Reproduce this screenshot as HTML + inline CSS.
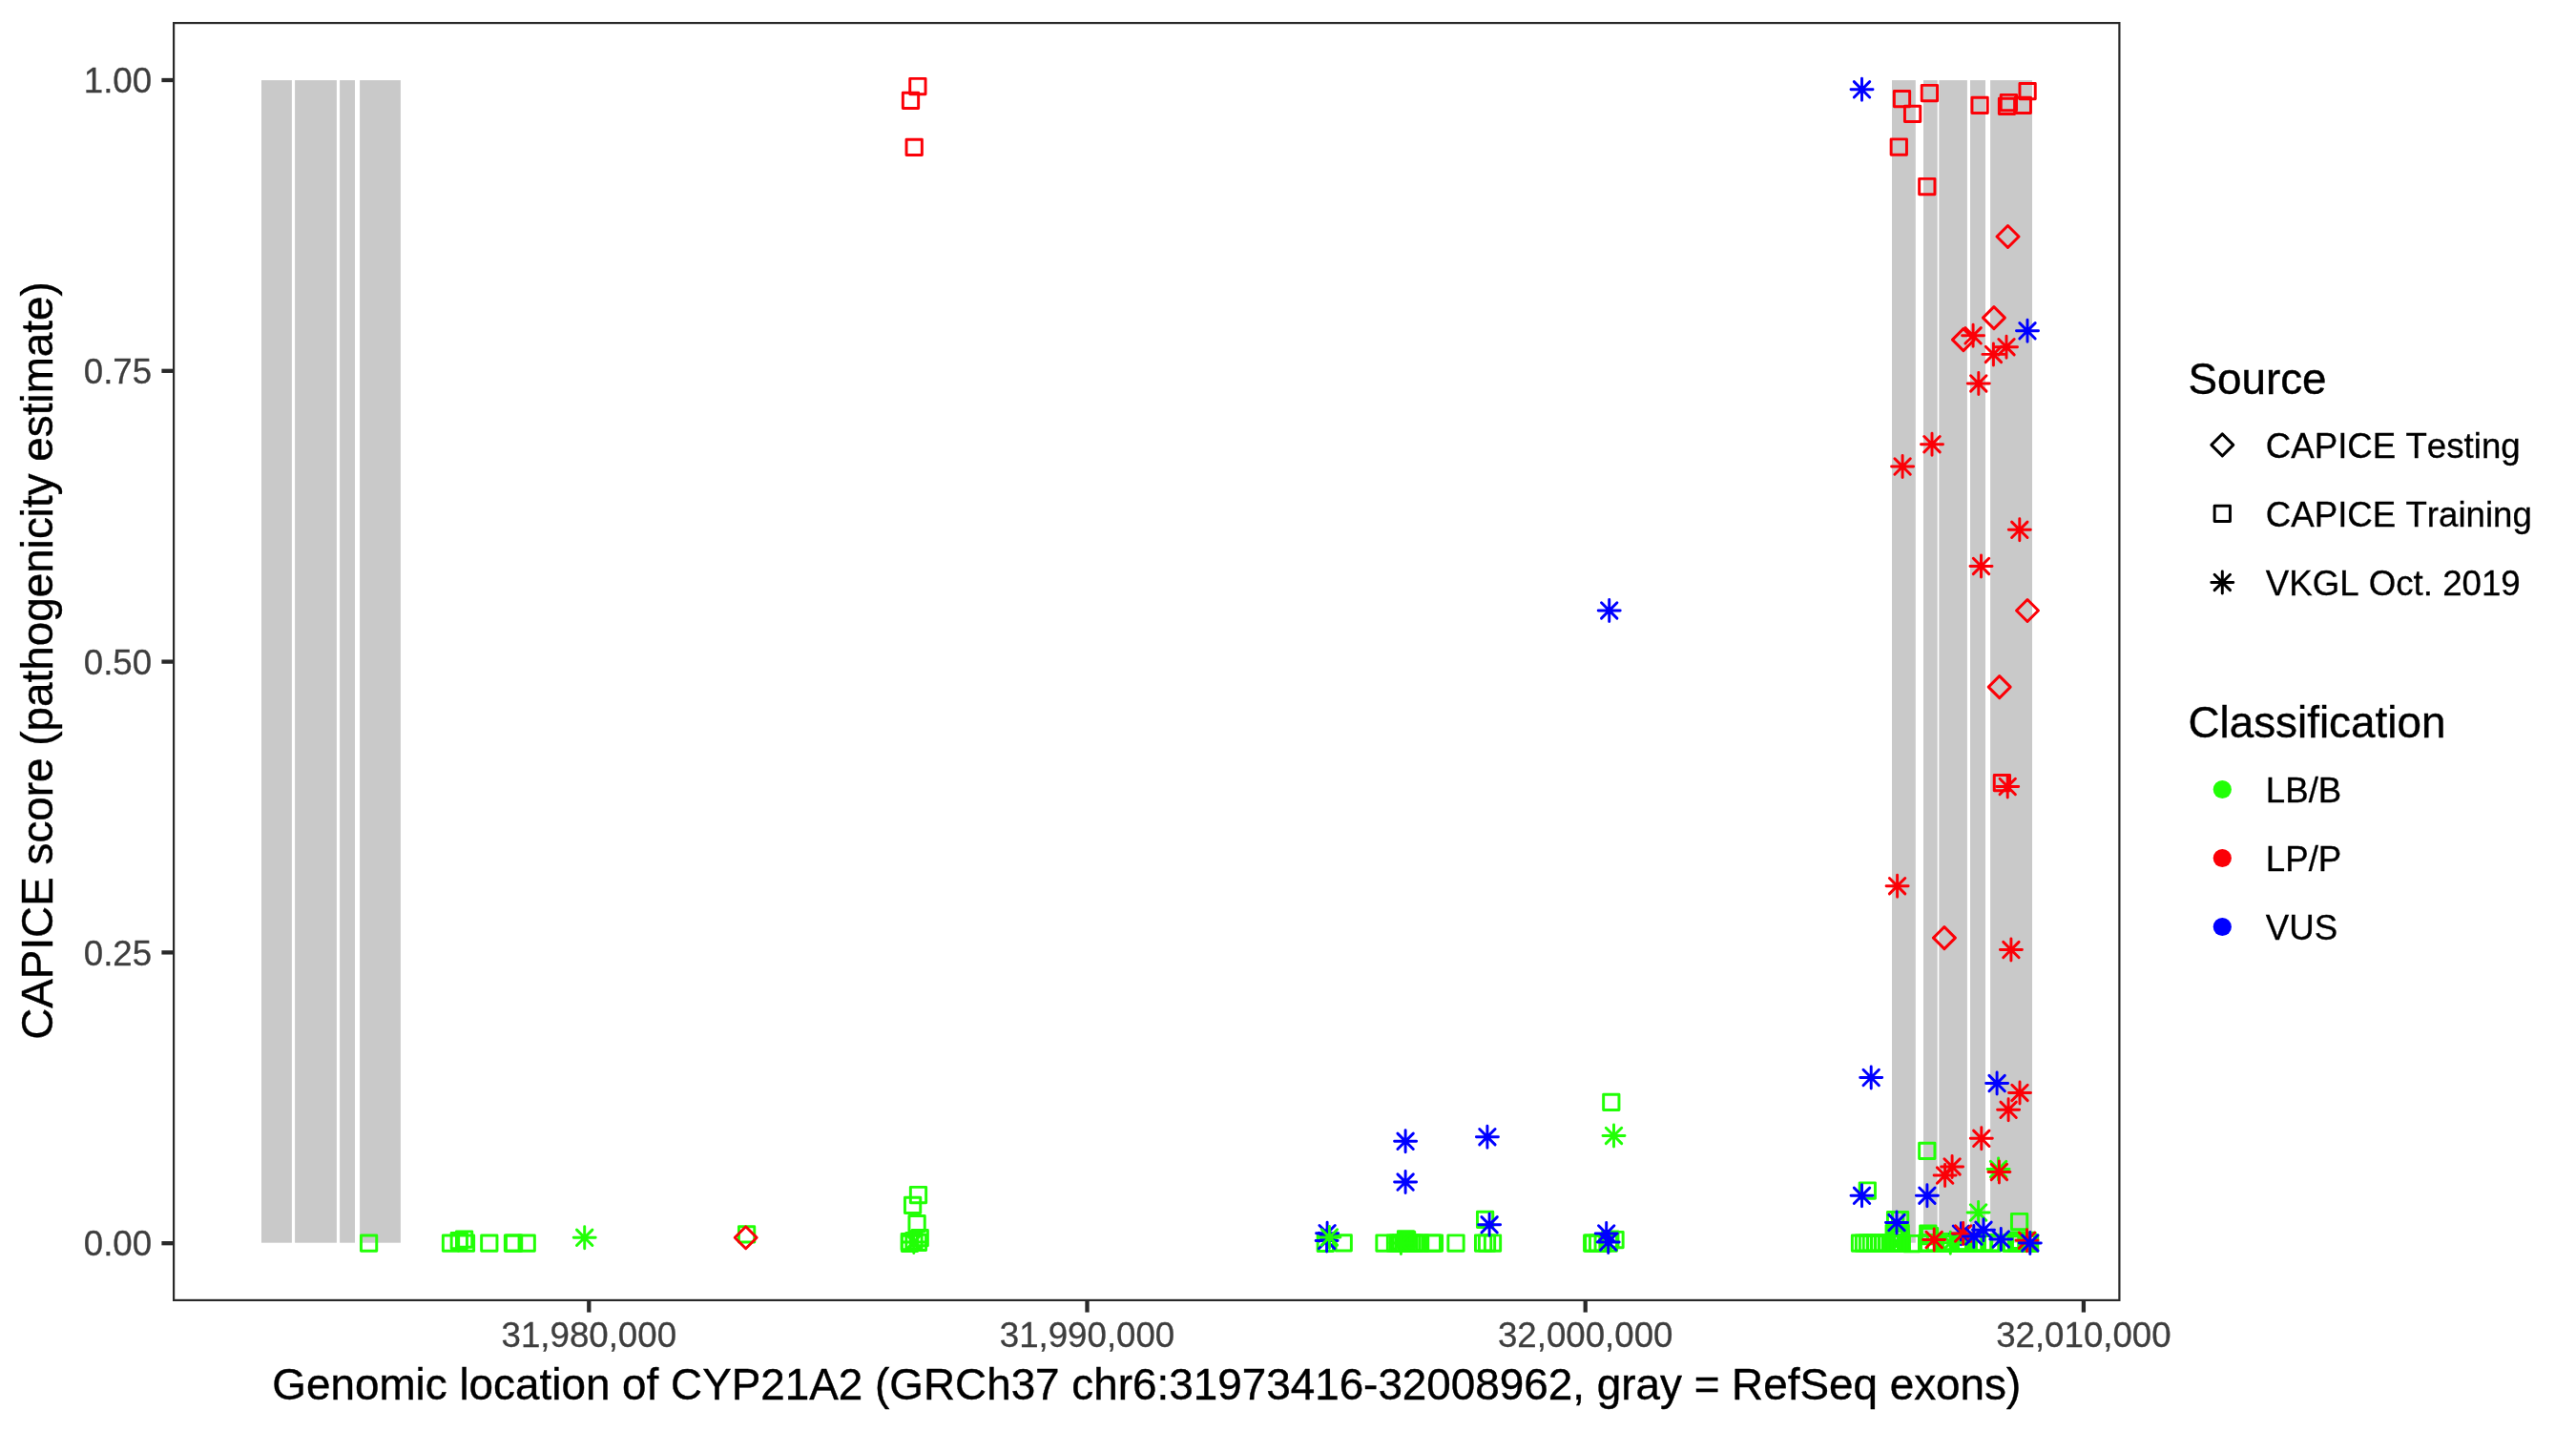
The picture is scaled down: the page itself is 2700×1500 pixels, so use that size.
<!DOCTYPE html>
<html><head><meta charset="utf-8"><title>CAPICE CYP21A2</title>
<style>
html,body{margin:0;padding:0;background:#fff;}
body{width:2700px;height:1500px;overflow:hidden;}
svg{display:block;will-change:transform;}
text{font-family:"Liberation Sans",sans-serif;font-kerning:none;}
.ax{font-size:36.67px;fill:#3e3e3e;stroke:#3e3e3e;stroke-width:0.3px;}
.ti{font-size:45.83px;fill:#000;stroke:#000;stroke-width:0.4px;}
.lg{font-size:36.67px;fill:#000;stroke:#000;stroke-width:0.3px;}
</style></head><body>
<svg width="2700" height="1500" viewBox="0 0 2700 1500">
<defs>
<rect id="sq" x="-8.15" y="-8.15" width="16.3" height="16.3"/>
<path id="di" d="M0 -11.5L11.5 0L0 11.5L-11.5 0Z"/>
<path id="st" d="M-11.5 0H11.5M0 -11.5V11.5M-8.2 -8.2L8.2 8.2M-8.2 8.2L8.2 -8.2"/>
</defs>
<rect width="2700" height="1500" fill="#fff"/>
<g fill="#C9C9C9"><rect x="274.0" y="84.1" width="31.9" height="1218.6"/><rect x="309.1" y="84.1" width="43.8" height="1218.6"/><rect x="356.1" y="84.1" width="15.9" height="1218.6"/><rect x="377.1" y="84.1" width="42.8" height="1218.6"/><rect x="1983.0" y="84.1" width="24.8" height="1218.6"/><rect x="2016.0" y="84.1" width="14.7" height="1218.6"/><rect x="2032.3" y="84.1" width="29.6" height="1218.6"/><rect x="2065.0" y="84.1" width="16.0" height="1218.6"/><rect x="2086.1" y="84.1" width="43.9" height="1218.6"/></g>
<g fill="none" stroke-width="2.95" stroke-linejoin="round" stroke-linecap="round">
<g stroke="#21FF06"><use href="#sq" x="386.6" y="1303.1"/><use href="#sq" x="472.5" y="1303.2"/><use href="#sq" x="481.3" y="1300.7"/><use href="#sq" x="486.6" y="1299.0"/><use href="#sq" x="488.5" y="1303.2"/><use href="#sq" x="512.8" y="1303.1"/><use href="#sq" x="537.5" y="1303.1"/><use href="#sq" x="538.6" y="1303.1"/><use href="#sq" x="552.2" y="1303.1"/><use href="#sq" x="782.6" y="1293.9"/><use href="#sq" x="962.5" y="1252.5"/><use href="#sq" x="956.6" y="1263.3"/><use href="#sq" x="961.1" y="1282.7"/><use href="#sq" x="953.3" y="1301.5"/><use href="#sq" x="953.5" y="1303.3"/><use href="#sq" x="964.2" y="1297.7"/><use href="#sq" x="962.4" y="1302.4"/><use href="#sq" x="958.0" y="1300.5"/><use href="#sq" x="1389.3" y="1303.3"/><use href="#sq" x="1408.2" y="1302.9"/><use href="#sq" x="1451.0" y="1303.0"/><use href="#sq" x="1462.5" y="1303.0"/><use href="#sq" x="1526.0" y="1303.0"/><use href="#sq" x="1556.6" y="1278.4"/><use href="#sq" x="1554.6" y="1303.0"/><use href="#sq" x="1558.5" y="1303.0"/><use href="#sq" x="1564.5" y="1303.0"/><use href="#sq" x="1668.7" y="1303.2"/><use href="#sq" x="1669.8" y="1303.2"/><use href="#sq" x="1674.6" y="1303.2"/><use href="#sq" x="1680.2" y="1303.2"/><use href="#sq" x="1686.4" y="1303.2"/><use href="#sq" x="1687.8" y="1299.0"/><use href="#sq" x="1693.0" y="1299.5"/><use href="#sq" x="1688.8" y="1155.3"/><use href="#sq" x="1957.3" y="1248.0"/><use href="#sq" x="1986.6" y="1278.6"/><use href="#sq" x="1991.6" y="1278.6"/><use href="#sq" x="1985.2" y="1292.6"/><use href="#sq" x="1992.2" y="1292.6"/><use href="#sq" x="1987.0" y="1295.5"/><use href="#sq" x="1990.5" y="1295.5"/><use href="#sq" x="1989.0" y="1298.4"/><use href="#sq" x="1992.4" y="1298.4"/><use href="#sq" x="2019.8" y="1206.3"/><use href="#sq" x="2020.8" y="1293.0"/><use href="#sq" x="2022.6" y="1295.6"/><use href="#sq" x="2116.6" y="1280.5"/><use href="#sq" x="1465.4" y="1303.0"/><use href="#sq" x="1468.3" y="1303.0"/><use href="#sq" x="1471.2" y="1303.0"/><use href="#sq" x="1474.1" y="1303.0"/><use href="#sq" x="1477.0" y="1303.0"/><use href="#sq" x="1479.9" y="1303.0"/><use href="#sq" x="1482.8" y="1303.0"/><use href="#sq" x="1485.7" y="1303.0"/><use href="#sq" x="1488.6" y="1303.0"/><use href="#sq" x="1473.5" y="1298.8"/><use href="#sq" x="1474.6" y="1299.6"/><use href="#sq" x="1501.3" y="1303.0"/><use href="#sq" x="1503.4" y="1303.0"/><use href="#sq" x="1949.5" y="1303.1"/><use href="#sq" x="1953.5" y="1303.1"/><use href="#sq" x="1957.5" y="1303.1"/><use href="#sq" x="1961.4" y="1303.1"/><use href="#sq" x="1965.4" y="1303.1"/><use href="#sq" x="1969.4" y="1303.1"/><use href="#sq" x="1973.4" y="1303.1"/><use href="#sq" x="1977.4" y="1303.1"/><use href="#sq" x="1981.3" y="1303.1"/><use href="#sq" x="1985.3" y="1303.1"/><use href="#sq" x="1989.3" y="1303.1"/><use href="#sq" x="1993.3" y="1303.1"/><use href="#sq" x="1983.3" y="1303.1"/><use href="#sq" x="1987.2" y="1303.1"/><use href="#sq" x="1991.0" y="1303.1"/><use href="#sq" x="2003.8" y="1303.5"/><use href="#sq" x="2019.6" y="1303.1"/><use href="#sq" x="2020.6" y="1303.1"/><use href="#sq" x="2021.6" y="1303.1"/><use href="#sq" x="2028.6" y="1303.1"/><use href="#sq" x="2036.6" y="1303.1"/><use href="#sq" x="2037.6" y="1303.1"/><use href="#sq" x="2038.6" y="1303.1"/><use href="#sq" x="2039.6" y="1303.1"/><use href="#sq" x="2040.6" y="1303.1"/><use href="#sq" x="2041.6" y="1303.1"/><use href="#sq" x="2042.6" y="1303.1"/><use href="#sq" x="2043.6" y="1303.1"/><use href="#sq" x="2052.6" y="1303.1"/><use href="#sq" x="2053.6" y="1303.1"/><use href="#sq" x="2054.6" y="1303.1"/><use href="#sq" x="2055.6" y="1303.1"/><use href="#sq" x="2056.6" y="1303.1"/><use href="#sq" x="2057.6" y="1303.1"/><use href="#sq" x="2058.6" y="1303.1"/><use href="#sq" x="2059.6" y="1303.1"/><use href="#sq" x="2060.6" y="1303.1"/><use href="#sq" x="2068.6" y="1303.1"/><use href="#sq" x="2069.6" y="1303.1"/><use href="#sq" x="2070.6" y="1303.1"/><use href="#sq" x="2071.6" y="1303.1"/><use href="#sq" x="2078.6" y="1303.1"/><use href="#sq" x="2079.6" y="1303.1"/><use href="#sq" x="2086.6" y="1303.1"/><use href="#sq" x="2087.6" y="1303.1"/><use href="#sq" x="2088.6" y="1303.1"/><use href="#sq" x="2107.6" y="1303.1"/><use href="#sq" x="2108.6" y="1303.1"/><use href="#sq" x="2113.6" y="1303.1"/><use href="#sq" x="2114.6" y="1303.1"/><use href="#sq" x="2115.6" y="1303.1"/><use href="#sq" x="2116.6" y="1303.1"/><use href="#sq" x="2117.6" y="1303.1"/><use href="#sq" x="2124.6" y="1303.1"/><use href="#sq" x="2125.6" y="1303.1"/><use href="#sq" x="2126.6" y="1303.1"/><use href="#sq" x="2127.6" y="1303.1"/><use href="#sq" x="2039.0" y="1301.8"/><use href="#sq" x="2042.0" y="1301.8"/><use href="#sq" x="2054.0" y="1301.8"/><use href="#sq" x="2057.0" y="1301.8"/><use href="#sq" x="2060.0" y="1301.8"/><use href="#sq" x="2115.0" y="1300.3"/><use href="#sq" x="2117.0" y="1300.3"/><use href="#sq" x="2125.0" y="1300.3"/></g>
<g stroke="#FB0007"><use href="#sq" x="961.9" y="90.5"/><use href="#sq" x="954.5" y="105.4"/><use href="#sq" x="958.2" y="154.3"/><use href="#sq" x="1993.5" y="103.6"/><use href="#sq" x="2004.6" y="119.4"/><use href="#sq" x="2022.4" y="97.5"/><use href="#sq" x="1990.3" y="154.0"/><use href="#sq" x="2019.8" y="195.5"/><use href="#sq" x="2075.1" y="110.4"/><use href="#sq" x="2103.5" y="111.4"/><use href="#sq" x="2105.4" y="107.5"/><use href="#sq" x="2120.3" y="110.4"/><use href="#sq" x="2125.1" y="95.6"/><use href="#sq" x="2098.4" y="820.6"/></g>
<g stroke="#FB0007"><use href="#di" x="781.7" y="1297.3"/><use href="#di" x="2104.5" y="248.0"/><use href="#di" x="2089.9" y="333.1"/><use href="#di" x="2057.9" y="356.1"/><use href="#di" x="2125.0" y="640.0"/><use href="#di" x="2095.7" y="720.1"/><use href="#di" x="2037.9" y="983.1"/></g>
<g stroke="#0000FF"><use href="#st" x="1391.1" y="1292.7"/><use href="#st" x="1390.6" y="1300.6"/><use href="#st" x="2055.4" y="1293.2"/></g>
<g stroke="#21FF06"><use href="#st" x="612.7" y="1297.3"/><use href="#st" x="957.8" y="1301.9"/><use href="#st" x="1393.4" y="1296.9"/><use href="#st" x="1468.4" y="1302.9"/><use href="#st" x="1691.5" y="1190.4"/><use href="#st" x="2094.6" y="1225.6"/><use href="#st" x="2073.6" y="1271.0"/><use href="#st" x="2044.3" y="1302.7"/></g>
<g stroke="#FB0007"><use href="#st" x="2068.1" y="351.8"/><use href="#st" x="2103.0" y="363.7"/><use href="#st" x="2089.4" y="371.4"/><use href="#st" x="2073.8" y="401.9"/><use href="#st" x="1994.1" y="489.0"/><use href="#st" x="2025.0" y="465.7"/><use href="#st" x="2116.8" y="555.3"/><use href="#st" x="2076.5" y="593.4"/><use href="#st" x="2104.2" y="824.5"/><use href="#st" x="1988.6" y="928.7"/><use href="#st" x="2107.9" y="995.6"/><use href="#st" x="2117.0" y="1145.4"/><use href="#st" x="2105.1" y="1163.3"/><use href="#st" x="2076.8" y="1193.3"/><use href="#st" x="2046.1" y="1222.9"/><use href="#st" x="2038.6" y="1232.1"/><use href="#st" x="2095.4" y="1228.4"/><use href="#st" x="2027.2" y="1299.5"/><use href="#st" x="2057.7" y="1293.0"/><use href="#st" x="2124.5" y="1300.2"/></g>
<g stroke="#0000FF"><use href="#st" x="1951.5" y="93.8"/><use href="#st" x="2125.0" y="346.8"/><use href="#st" x="1686.7" y="639.9"/><use href="#st" x="1473.1" y="1196.3"/><use href="#st" x="1473.1" y="1239.1"/><use href="#st" x="1558.9" y="1191.7"/><use href="#st" x="1561.1" y="1283.8"/><use href="#st" x="1683.7" y="1292.9"/><use href="#st" x="1685.7" y="1302.0"/><use href="#st" x="1961.2" y="1129.5"/><use href="#st" x="2093.1" y="1135.6"/><use href="#st" x="1951.5" y="1253.3"/><use href="#st" x="2019.9" y="1253.2"/><use href="#st" x="1988.0" y="1281.6"/><use href="#st" x="2068.8" y="1296.0"/><use href="#st" x="2079.0" y="1289.3"/><use href="#st" x="2097.3" y="1298.9"/><use href="#st" x="2127.8" y="1302.9"/></g>
</g>
<rect x="182.1" y="24.1" width="2039.3" height="1338.8" fill="none" stroke="#292929" stroke-width="2.2"/>
<g stroke="#292929" stroke-width="4.3"><line x1="169.4" x2="181.0" y1="1303.2" y2="1303.2"/><line x1="169.4" x2="181.0" y1="998.4" y2="998.4"/><line x1="169.4" x2="181.0" y1="693.6" y2="693.6"/><line x1="169.4" x2="181.0" y1="388.8" y2="388.8"/><line x1="169.4" x2="181.0" y1="84.0" y2="84.0"/><line x1="617.3" x2="617.3" y1="1364.0" y2="1375.6"/><line x1="1139.5" x2="1139.5" y1="1364.0" y2="1375.6"/><line x1="1661.7" x2="1661.7" y1="1364.0" y2="1375.6"/><line x1="2183.9" x2="2183.9" y1="1364.0" y2="1375.6"/></g>
<text class="ax" text-anchor="end" x="159.1" y="1316.4">0.00</text><text class="ax" text-anchor="end" x="159.1" y="1011.6">0.25</text><text class="ax" text-anchor="end" x="159.1" y="706.8">0.50</text><text class="ax" text-anchor="end" x="159.1" y="402.0">0.75</text><text class="ax" text-anchor="end" x="159.1" y="97.2">1.00</text><text class="ax" text-anchor="middle" x="617.3" y="1412.1">31,980,000</text><text class="ax" text-anchor="middle" x="1139.5" y="1412.1">31,990,000</text><text class="ax" text-anchor="middle" x="1661.7" y="1412.1">32,000,000</text><text class="ax" text-anchor="middle" x="2183.9" y="1412.1">32,010,000</text>
<text class="ti" text-anchor="middle" x="1201.8" y="1467.0">Genomic location of CYP21A2 (GRCh37 chr6:31973416-32008962, gray = RefSeq exons)</text>
<text class="ti" text-anchor="middle" transform="translate(54.9 692.5) rotate(-90)">CAPICE score (pathogenicity estimate)</text>
<text class="ti" x="2293.4" y="413.1">Source</text>
<g fill="none" stroke="#000" stroke-width="2.95" stroke-linejoin="round" stroke-linecap="round"><use href="#di" x="2329.3" y="466.4"/><use href="#sq" x="2329.3" y="538.4"/><use href="#st" x="2329.3" y="610.4"/></g>
<text class="lg" x="2374.8" y="479.6">CAPICE Testing</text><text class="lg" x="2374.8" y="551.6">CAPICE Training</text><text class="lg" x="2374.8" y="623.6">VKGL Oct. 2019</text>
<text class="ti" x="2293.4" y="773.4">Classification</text>
<circle cx="2329.3" cy="827.5" r="9.6" fill="#21FF06"/><circle cx="2329.3" cy="899.5" r="9.6" fill="#FB0007"/><circle cx="2329.3" cy="971.5" r="9.6" fill="#0000FF"/><text class="lg" x="2374.8" y="841.0">LB/B</text><text class="lg" x="2374.8" y="913.0">LP/P</text><text class="lg" x="2374.8" y="985.0">VUS</text>
</svg>
</body></html>
